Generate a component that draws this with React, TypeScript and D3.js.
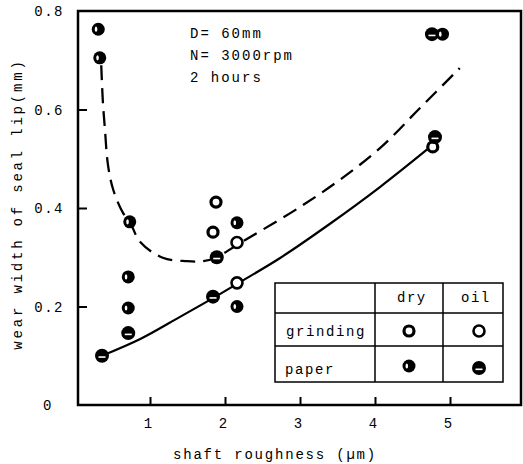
import React, { useEffect, useRef } from 'react';
import * as d3 from 'd3';

// measured points: [roughness µm, wear width mm]
const grindingDry = [[1.88, 0.412], [1.84, 0.351], [4.77, 0.524]];
const grindingOil = [[2.16, 0.33], [2.16, 0.248]];
const paperDry = [[0.31, 0.763], [0.33, 0.705], [0.73, 0.372], [0.71, 0.26], [0.71, 0.197], [2.16, 0.37], [2.16, 0.2], [4.9, 0.753]];
const paperOil = [[0.71, 0.146], [0.36, 0.1], [1.89, 0.3], [1.84, 0.22], [4.76, 0.753], [4.8, 0.544]];

// hand-drawn trend curves
const dryCurve = [[0.35, 0.69], [0.37, 0.62], [0.4, 0.558], [0.44, 0.487], [0.51, 0.437], [0.64, 0.39], [0.73, 0.372], [0.87, 0.331], [1.17, 0.299], [1.49, 0.292], [1.71, 0.292], [1.89, 0.3], [2.16, 0.325], [2.47, 0.353], [3.0, 0.402], [3.53, 0.457], [4.07, 0.522], [4.6, 0.603], [5.13, 0.684]];
const oilCurve = [[0.36, 0.1], [0.87, 0.134], [1.4, 0.179], [1.84, 0.217], [2.16, 0.246], [2.73, 0.298], [3.4, 0.368], [4.07, 0.443], [4.77, 0.528]];

const xTicks = [1, 2, 3, 4, 5];
const yTicks = [0, 0.2, 0.4, 0.6, 0.8];
const notes = ['D= 60mm', 'N= 3000rpm', '2 hours'];
const legendCols = ['dry', 'oil'];
const legendRows = ['grinding', 'paper'];

const FONT = '"Liberation Mono", "DejaVu Sans Mono", monospace';

const App = () => {
  const svgRef = useRef(null);

  useEffect(() => {
    const svg = d3.select(svgRef.current);
    svg.selectAll('*').remove();

    const x = d3.scaleLinear().domain([0.04, 5.96]).range([78, 522]);
    const y = d3.scaleLinear().domain([0, 0.8]).range([405, 11]);

    // frame
    svg.append('rect')
      .attr('x', x(0.04)).attr('y', y(0.8))
      .attr('width', x(5.96) - x(0.04) - 1).attr('height', y(0) - y(0.8))
      .attr('fill', 'none').attr('stroke', '#000').attr('stroke-width', 2.5);

    // x axis (ticks pointing inward)
    const xa = svg.append('g')
      .attr('transform', `translate(0,${y(0)})`)
      .call(d3.axisTop(x).tickValues(xTicks).tickSize(8).tickFormat(() => ''));
    xa.select('.domain').remove();
    xa.selectAll('line').attr('stroke-width', 2);

    svg.append('g').selectAll('text').data(xTicks).join('text')
      .attr('x', d => x(d) - 2).attr('y', 428)
      .attr('text-anchor', 'middle')
      .style('font-family', FONT).style('font-size', '14px')
      .text(d => d);

    // y axis (ticks pointing inward)
    const ya = svg.append('g')
      .attr('transform', `translate(${x(0.04)},0)`)
      .call(d3.axisRight(y).tickValues(yTicks.slice(1, 4)).tickSize(9).tickFormat(() => ''));
    ya.select('.domain').remove();
    ya.selectAll('line').attr('stroke-width', 2);

    svg.append('g').selectAll('text').data(yTicks).join('text')
      .attr('x', d => (d === 0 ? 48 : 64)).attr('y', d => y(d) + 5)
      .attr('text-anchor', d => (d === 0 ? 'middle' : 'end'))
      .style('font-family', FONT).style('font-size', '14px').style('letter-spacing', '1.5px')
      .text(d => (d === 0 ? '0' : d3.format('.1f')(d)));

    // axis titles
    svg.append('text')
      .attr('x', 275).attr('y', 459).attr('text-anchor', 'middle')
      .style('font-family', FONT).style('font-size', '14px').style('letter-spacing', '1.8px')
      .text('shaft roughness (µm)');
    svg.append('text')
      .attr('transform', 'translate(22,204) rotate(-90)').attr('text-anchor', 'middle')
      .style('font-family', FONT).style('font-size', '14px').style('letter-spacing', '2.8px')
      .text('wear width of seal lip(mm)');

    // notes
    svg.append('g').selectAll('text').data(notes).join('text')
      .attr('x', 190).attr('y', (d, i) => 38 + i * 22)
      .style('font-family', FONT).style('font-size', '14px').style('letter-spacing', '2px')
      .text(d => d);

    // curves
    const line = d3.line().x(d => x(d[0])).y(d => y(d[1])).curve(d3.curveCatmullRom.alpha(0.5));
    svg.append('path').datum(dryCurve)
      .attr('d', line).attr('fill', 'none').attr('stroke', '#000')
      .attr('stroke-width', 2.3).attr('stroke-dasharray', '15 8');
    svg.append('path').datum(oilCurve)
      .attr('d', line).attr('fill', 'none').attr('stroke', '#000').attr('stroke-width', 2.2);

    // markers
    const drawMarker = (g, kind, cx, cy) => {
      if (kind === 'gDry' || kind === 'gOil') {
        g.append('circle').attr('cx', cx).attr('cy', cy).attr('r', kind === 'gDry' ? 5 : 5.5)
          .attr('fill', '#fff').attr('stroke', '#000').attr('stroke-width', kind === 'gDry' ? 3.2 : 2.6);
      } else if (kind === 'pDry') {
        g.append('circle').attr('cx', cx).attr('cy', cy).attr('r', 6.5).attr('fill', '#000');
        g.append('ellipse').attr('cx', cx - 2.2).attr('cy', cy).attr('rx', 1.3).attr('ry', 2.6).attr('fill', '#fff');
      } else {
        g.append('circle').attr('cx', cx).attr('cy', cy).attr('r', 7).attr('fill', '#000');
        g.append('rect').attr('x', cx - 3.5).attr('y', cy + 0.5).attr('width', 7).attr('height', 1.6).attr('fill', '#fff');
      }
    };

    const pts = svg.append('g');
    grindingDry.forEach(d => drawMarker(pts, 'gDry', x(d[0]), y(d[1])));
    grindingOil.forEach(d => drawMarker(pts, 'gOil', x(d[0]), y(d[1])));
    paperDry.forEach(d => drawMarker(pts, 'pDry', x(d[0]), y(d[1])));
    paperOil.forEach(d => drawMarker(pts, 'pOil', x(d[0]), y(d[1])));

    // legend table
    const colX = [275, 375, 443, 503];
    const rowY = [283, 313, 346, 382];
    const lg = svg.append('g');
    lg.append('rect').attr('x', colX[0]).attr('y', rowY[0])
      .attr('width', colX[3] - colX[0]).attr('height', rowY[3] - rowY[0])
      .attr('fill', '#fff').attr('stroke', '#000').attr('stroke-width', 1.5);
    colX.slice(1, 3).forEach(cx => lg.append('line')
      .attr('x1', cx).attr('x2', cx).attr('y1', rowY[0]).attr('y2', rowY[3])
      .attr('stroke', '#000').attr('stroke-width', 1.5));
    rowY.slice(1, 3).forEach(ry => lg.append('line')
      .attr('x1', colX[0]).attr('x2', colX[3]).attr('y1', ry).attr('y2', ry)
      .attr('stroke', '#000').attr('stroke-width', 1.5));
    lg.selectAll('text.col').data(legendCols).join('text')
      .attr('x', (d, i) => (colX[i + 1] + colX[i + 2]) / 2 - 12).attr('y', 302)
      .style('font-family', FONT).style('font-size', '14px').style('letter-spacing', '1.5px')
      .text(d => d);
    lg.selectAll('text.row').data(legendRows).join('text')
      .attr('x', (d, i) => (i === 0 ? 286 : 285)).attr('y', (d, i) => (i === 0 ? 336 : 374))
      .style('font-family', FONT).style('font-size', '14px').style('letter-spacing', '1.6px')
      .text(d => d);
    drawMarker(lg, 'gDry', 409, 331);
    drawMarker(lg, 'gOil', 479, 331);
    drawMarker(lg, 'pDry', 409, 366);
    drawMarker(lg, 'pOil', 479, 368);
  }, []);

  return (
    <div style={{ position: 'absolute', left: 0, top: 0 }}>
      <svg ref={svgRef} width={523} height={464} style={{ display: 'block', background: '#fff' }} />
    </div>
  );
};

export default App;
